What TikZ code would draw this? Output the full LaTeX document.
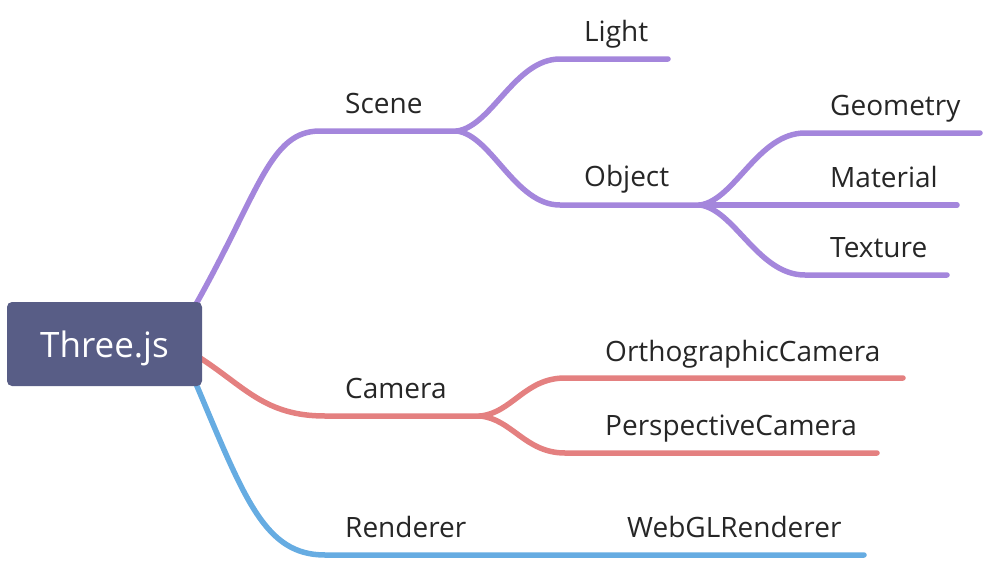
\documentclass[tikz,border=0pt]{standalone}
\usepackage{fontspec}
\setmainfont{Open Sans}
\usetikzlibrary{backgrounds}

\definecolor{rootblue}{RGB}{88,93,134}
\definecolor{scenepurple}{RGB}{164,134,220}
\definecolor{camerared}{RGB}{228,128,128}
\definecolor{rendererblue}{RGB}{102,172,226}
\definecolor{labelgray}{RGB}{38,38,38}

\begin{document}
\begin{tikzpicture}[x=1pt, y=-1pt,
  root/.style={fill=rootblue, rounded corners=5pt, text=white, font=\fontsize{35}{40}\selectfont, minimum width=195pt, minimum height=84pt, inner sep=0pt, text depth=0pt},
  topic/.style={anchor=base west, inner sep=0pt, text=labelgray, font=\fontsize{28}{32}\selectfont},
  branch/.style={line width=5.5pt, line cap=round}]
\useasboundingbox (0,0) rectangle (986,560);
% central topic
\node[root] (three) at (104.5,344) {Three.js};
% topics
\node[topic] (scene) at (345,113) {Scene};
\node[topic] (light) at (584,41) {Light};
\node[topic] (object) at (584,186) {Object};
\node[topic] (geometry) at (830,115) {Geometry};
\node[topic] (material) at (830,187) {Material};
\node[topic] (texture) at (830,257) {Texture};
\node[topic] (camera) at (345,398) {Camera};
\node[topic] (ortho) at (605,361) {OrthographicCamera};
\node[topic] (persp) at (605,435) {PerspectiveCamera};
\node[topic] (renderer) at (345,537) {Renderer};
\node[topic] (webgl) at (627,537) {WebGLRenderer};
% junctions and line ends
\coordinate (scene-j) at (457,131);
\coordinate (light-e) at (668,59);
\coordinate (object-j) at (700,205);
\coordinate (geometry-e) at (980,133);
\coordinate (material-e) at (957,205);
\coordinate (texture-e) at (947,275);
\coordinate (camera-j) at (480,416);
\coordinate (ortho-e) at (903,378);
\coordinate (persp-e) at (877,453);
\coordinate (webgl-e) at (864,555);
\begin{pgfonlayer}{background}
\draw[branch, scenepurple] ([xshift=-6pt,yshift=-2pt]three.north east) .. controls (260,190) and (270,131) .. (320,131) -- (scene-j);
\draw[branch, scenepurple] (scene-j) .. controls (492,126) and (515,59) .. (560,59) -- (light-e);
\draw[branch, scenepurple] (scene-j) .. controls (492,136) and (515,205) .. (560,205) -- (object-j);
\draw[branch, scenepurple] (object-j) .. controls (735,200) and (758,133) .. (805,133) -- (geometry-e);
\draw[branch, scenepurple] (object-j) -- (material-e);
\draw[branch, scenepurple] (object-j) .. controls (735,210) and (758,275) .. (805,275) -- (texture-e);
\draw[branch, camerared] ([xshift=-2pt,yshift=-14pt]three.east) .. controls (245,387) and (265,416) .. (325,416) -- (camera-j);
\draw[branch, camerared] (camera-j) .. controls (512,413) and (525,378) .. (565,378) -- (ortho-e);
\draw[branch, camerared] (camera-j) .. controls (512,419) and (525,453) .. (565,453) -- (persp-e);
\draw[branch, rendererblue] ([xshift=-6pt,yshift=2pt]three.south east) .. controls (245,500) and (265,555) .. (325,555) -- (webgl-e);
\end{pgfonlayer}
\end{tikzpicture}
\end{document}
